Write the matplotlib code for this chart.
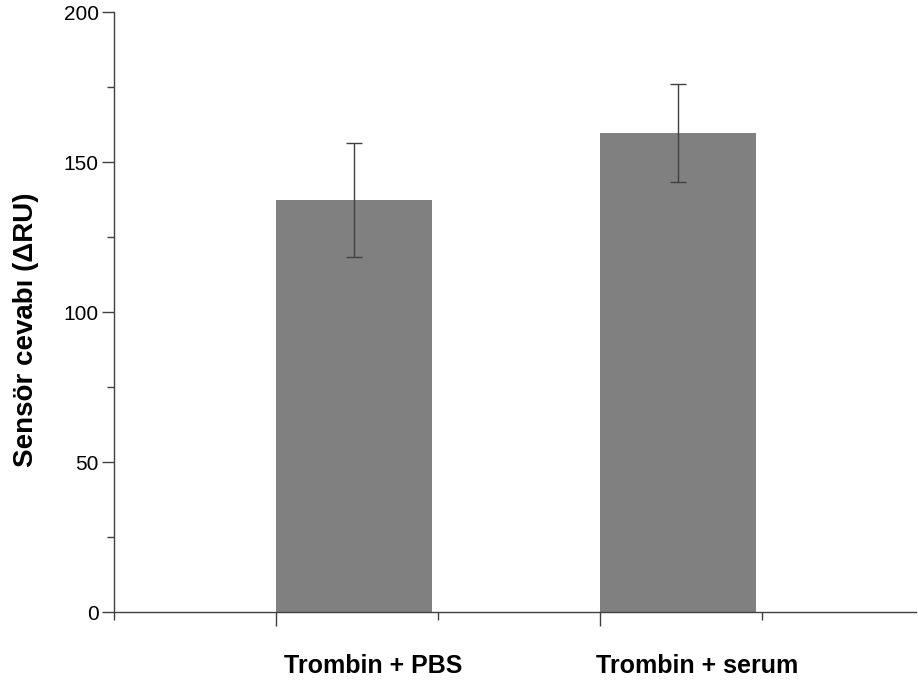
import matplotlib.pyplot as plt
from matplotlib.ticker import MultipleLocator
import matplotlib.transforms as mtransforms

plt.rcParams['font.family'] = ['Liberation Sans', 'DejaVu Sans']

# Data.
groups = ["Trombin + PBS", "Trombin + serum"]
means = [137.3, 159.6]
errors = [19.0, 16.3]

# Bars sit between categorical tick marks (left edge at 1 and 3).
bar_left = [1, 3]
bar_width = 0.96

fig = plt.figure(figsize=(9.18, 6.87), dpi=100)
ax = fig.add_axes([114 / 918, 75 / 687, 802 / 918, 600 / 687])

centers = [x + bar_width / 2 for x in bar_left]
ax.bar(centers, means, width=bar_width, color="#808080", zorder=2)
ax.errorbar(centers, means, yerr=errors, fmt="none", ecolor="#404040",
            elinewidth=1.0, capsize=6, capthick=1.0, zorder=3)

ax.set_xlim(0, 4.95)
ax.set_ylim(0, 200)

# Y axis ticks.
ax.yaxis.set_major_locator(MultipleLocator(50))
ax.yaxis.set_minor_locator(MultipleLocator(25))
ax.tick_params(axis="y", which="major", length=9, width=1, color="#404040",
               labelsize=15, pad=2)
ax.tick_params(axis="y", which="minor", length=5, width=1, color="#404040")

# X axis ticks: long at bar starts, short elsewhere.
ax.set_xticks(bar_left)
ax.set_xticks([0, 2, 4], minor=True)
ax.set_xticklabels([])
ax.tick_params(axis="x", which="major", length=10, width=1, color="#404040")
ax.tick_params(axis="x", which="minor", length=6, width=1, color="#404040")

for side in ["top", "right"]:
    ax.spines[side].set_visible(False)
for side in ["left", "bottom"]:
    ax.spines[side].set_color("#404040")
    ax.spines[side].set_linewidth(1)

# Category labels under the bars.
trans = mtransforms.blended_transform_factory(ax.transData, ax.transAxes)
for c, g in zip(centers, groups):
    ax.text(c + 0.12, -0.09, g, transform=trans, ha="center", va="center",
            fontsize=18, fontweight="bold")

ax.set_ylabel("Sensör cevabı (ΔRU)", fontsize=20, fontweight="bold")
ax.yaxis.set_label_coords(-0.094, 0.47)

fig.savefig("out.png", dpi=100)
